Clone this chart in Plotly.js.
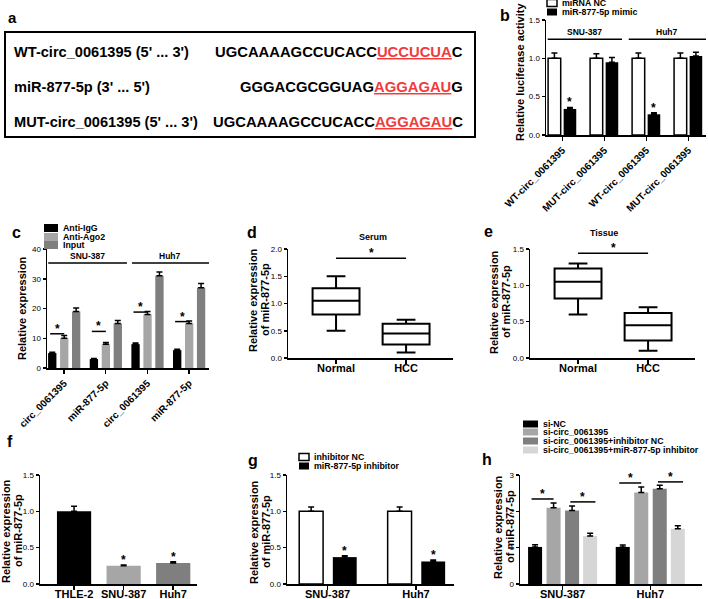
<!DOCTYPE html>
<html>
<head>
<meta charset="utf-8">
<script src="https://cdn.plot.ly/plotly-3.0.1.min.js"></script>
<style>body{margin:0;background:#fff}#chart{width:708px;height:599px}</style>
</head>
<body>
<div id="chart"></div>
<script>
// panel a - binding site sequences
const seqLabels = ["WT-circ_0061395 (5' ... 3')", "miR-877-5p (3' ... 5')", "MUT-circ_0061395 (5' ... 3')"];
const seqHead = ["UGCAAAAGCCUCACC", "GGGACGCGGUAG", "UGCAAAAGCCUCACC"];
const seqSite = ["UCCUCUA", "AGGAGAU", "AGGAGAU"];
const seqTail = ["C", "G", "C"];

// panel b - luciferase
const lucLabels = ["WT-circ_0061395", "MUT-circ_0061395", "WT-circ_0061395", "MUT-circ_0061395"];
const lucNames = ["miRNA NC", "miR-877-5p mimic"];
const lucNC = [1.0, 1.0, 1.0, 1.0];
const lucNCErr = [0.07, 0.06, 0.07, 0.07];
const lucMimic = [0.34, 0.95, 0.27, 1.03];
const lucMimicErr = [0.02, 0.06, 0.02, 0.05];
const lucStars = [0, 2];

// panel c - RIP
const ripLabels = ["circ_0061395", "miR-877-5p", "circ_0061395", "miR-877-5p"];
const ripNames = ["Anti-IgG", "Anti-Ago2", "Input"];
const ripIgG = [5, 3, 8, 6];
const ripIgGErr = [0.3, 0.2, 0.4, 0.3];
const ripAgo2 = [10, 8, 18, 15];
const ripAgo2Err = [0.9, 0.6, 1.0, 0.8];
const ripInput = [19, 15, 31, 27];
const ripInputErr = [1.2, 1.0, 1.3, 1.4];
const ripSig = [11.5, 12.3, 18.8, 15.6];

// panels d, e - box plots
const boxGroups = ["Normal", "HCC"];
const serumLow = [0.5, 0.1];
const serumQ1 = [0.8, 0.25];
const serumMed = [1.05, 0.45];
const serumQ3 = [1.28, 0.63];
const serumHigh = [1.5, 0.7];
const tissueLow = [0.6, 0.1];
const tissueQ1 = [0.82, 0.24];
const tissueMed = [1.05, 0.45];
const tissueQ3 = [1.23, 0.62];
const tissueHigh = [1.3, 0.7];

// panel f - cell lines
const cellLines = ["THLE-2", "SNU-387", "Huh7"];
const cellExpr = [1.0, 0.25, 0.29];
const cellErr = [0.07, 0.01, 0.015];
const cellStars = [1, 2];

// panel g - inhibitor
const cancerLines = ["SNU-387", "Huh7"];
const inhNames = ["inhibitor NC", "miR-877-5p inhibitor"];
const inhNC = [1.0, 1.0];
const inhNCErr = [0.06, 0.06];
const inhMiR = [0.37, 0.31];
const inhMiRErr = [0.02, 0.02];

// panel h - knockdown rescue
const kdNames = ["si-NC", "si-circ_0061395", "si-circ_0061395+inhibitor NC", "si-circ_0061395+miR-877-5p inhibitor"];
const kdSiNC = [1.02, 1.02];
const kdSiNCErr = [0.06, 0.05];
const kdSiCirc = [2.1, 2.52];
const kdSiCircErr = [0.13, 0.15];
const kdInhNC = [2.02, 2.62];
const kdInhNCErr = [0.13, 0.1];
const kdMiRInh = [1.32, 1.52];
const kdMiRInhErr = [0.08, 0.08];
const kdSig = [[2.34, 2.26], [2.78, 2.81]];

const W = 708, H = 599;
const fx = p => p / W;
const fy = p => 1 - p / H;
const BLACK = '#000000', GRAY = '#a6a6a6', DARK = '#7f7f7f', PALE = '#d6d6d6';

const layout = {
    width: W, height: H,
    margin: {l: 0, r: 0, t: 0, b: 0},
    paper_bgcolor: 'white',
    plot_bgcolor: 'rgba(0,0,0,0)',
    showlegend: false,
    barmode: 'overlay',
    font: {family: 'Liberation Sans, Arial, sans-serif', color: 'black'},
    annotations: [],
    shapes: [],
};
const traces = [];

function sfx(id) { return id === 1 ? '' : String(id); }

function axes(id, left, right, top, bottom, xRange, yRange, dtick, fmt, xExtra) {
    const s = sfx(id);
    layout['xaxis' + s] = Object.assign({
        domain: [fx(left), fx(right)], anchor: 'y' + s, range: xRange,
        showline: true, linecolor: 'black', linewidth: 1.5,
        ticks: 'outside', ticklen: 4, tickwidth: 1.5, tickcolor: 'black',
        ticklabelstandoff: -5,
        showgrid: false, zeroline: false, fixedrange: true,
        tickfont: {size: 11, weight: 'bold', color: 'black'},
    }, xExtra || {});
    layout['yaxis' + s] = {
        domain: [fy(bottom), fy(top)], anchor: 'x' + s, range: yRange,
        tick0: 0, dtick: dtick, tickformat: fmt,
        showline: true, linecolor: 'black', linewidth: 1.5,
        ticks: 'outside', ticklen: 3, tickwidth: 1.5, tickcolor: 'black',
        showgrid: false, zeroline: false, fixedrange: true,
        tickfont: {size: 8, color: 'black'},
    };
}

function bars(id, xs, ys, err, color, offset, width, outlined) {
    const s = sfx(id);
    traces.push({
        type: 'bar', x: xs, y: ys, xaxis: 'x' + s, yaxis: 'y' + s,
        offset: offset, width: width,
        marker: {color: color, line: {color: 'black', width: outlined ? 1.5 : 0}},
        error_y: {type: 'data', symmetric: false, array: err, arrayminus: err.map(() => 0),
            color: 'black', thickness: 1.5, width: 3},
        hoverinfo: 'skip',
    });
}

function text(x, y, t, size, extra) {
    layout.annotations.push(Object.assign({
        xref: 'paper', yref: 'paper', x: fx(x), y: fy(y), text: t, showarrow: false,
        xanchor: 'center', yanchor: 'middle', font: {size: size, weight: 'bold'},
    }, extra || {}));
}

function star(id, x, y) {
    const s = sfx(id);
    layout.annotations.push({
        xref: 'x' + s, yref: 'y' + s, x: x, y: y, text: '*', showarrow: false,
        yanchor: 'bottom', yshift: -4, font: {size: 12, weight: 'bold'},
    });
}

function bracket(id, x0, x1, y) {
    const s = sfx(id);
    layout.shapes.push({type: 'line', xref: 'x' + s, yref: 'y' + s, x0: x0, x1: x1, y0: y, y1: y,
        line: {color: 'black', width: 1.5}});
    star(id, (x0 + x1) / 2, y);
}

function groupLine(id, x0, x1, y, label) {
    const s = sfx(id);
    layout.shapes.push({type: 'line', xref: 'x' + s, yref: 'y' + s, x0: x0, x1: x1, y0: y, y1: y,
        line: {color: 'black', width: 1.5}});
    layout.annotations.push({xref: 'x' + s, yref: 'y' + s, x: (x0 + x1) / 2, y: y, text: label,
        showarrow: false, yanchor: 'bottom', yshift: 0, font: {size: 8.5, weight: 'bold'}});
}

function legendBox(x, rows, names, colors, sw, sh) {
    names.forEach((nm, i) => {
        layout.shapes.push({type: 'rect', xref: 'paper', yref: 'paper',
            x0: fx(x), x1: fx(x + sw), y0: fy(rows[i] + sh / 2), y1: fy(rows[i] - sh / 2),
            fillcolor: colors[i], line: {color: 'black', width: colors[i] === 'white' ? 1.5 : 0}});
        text(x + sw + 4, rows[i], nm, 8.8, {xanchor: 'left', borderpad: 0});
    });
}

function yTitle(x, y, t) { text(x, y, t, 11, {textangle: -90}); }
function yTitle2(x, y) {
    yTitle(x - 6, y, 'Relative expression');
    yTitle(x + 6, y, 'of miR-877-5p');
}

// ---- a ----
layout.shapes.push({type: 'rect', xref: 'paper', yref: 'paper', x0: fx(5), x1: fx(475), y0: fy(137), y1: fy(32),
    line: {color: 'black', width: 2}});
text(12, 18, 'a', 15);
const rowY = [52, 87, 122];
seqLabels.forEach((lab, i) => {
    text(12, rowY[i], lab, 14.6, {xanchor: 'left'});
    text(465, rowY[i], seqHead[i] + '<span style="color:#f03c3c"><u>' + seqSite[i] + '</u></span>' + seqTail[i], 14.8,
        {xanchor: 'right'});
});

// ---- b ----
const lucX = lucLabels.map((_, i) => i);
axes(1, 546, 706, 20, 135, [-0.39, 3.42], [0, 1.5], 0.5, '.1f',
    {tickmode: 'array', tickvals: lucX, ticktext: lucLabels, tickangle: -45, ticklabelstandoff: 0,
        tickfont: {size: 10, weight: 'bold', color: 'black'}});
bars(1, lucX, lucNC, lucNCErr, 'white', -0.34, 0.3, true);
bars(1, lucX, lucMimic, lucMimicErr, BLACK, 0.03, 0.3, false);
lucStars.forEach(i => star(1, i + 0.18, lucMimic[i] + lucMimicErr[i]));
groupLine(1, -0.35, 1.42, 1.25, 'SNU-387');
groupLine(1, 1.58, 3.42, 1.25, 'Huh7');
legendBox(547, [3, 12], lucNames, ['white', BLACK], 10, 7);
yTitle(520, 72, 'Relative luciferase activity');
text(505, 15, 'b', 16);

// ---- c ----
const ripX = ripLabels.map((_, i) => i);
const ripOff = [-0.384, -0.096, 0.19], ripW = 0.2;
axes(2, 47, 209, 249, 368, [-0.41, 3.48], [0, 40], 10, '',
    {tickmode: 'array', tickvals: ripX, ticktext: ripLabels, tickangle: -45, ticklabelstandoff: 0,
        tickfont: {size: 10, weight: 'bold', color: 'black'}});
bars(2, ripX, ripIgG, ripIgGErr, BLACK, ripOff[0], ripW, false);
bars(2, ripX, ripAgo2, ripAgo2Err, GRAY, ripOff[1], ripW, false);
bars(2, ripX, ripInput, ripInputErr, DARK, ripOff[2], ripW, false);
ripX.forEach(i => bracket(2, i + ripOff[0] + 0.05, i + ripOff[1] + ripW / 2, ripSig[i]));
groupLine(2, -0.38, 1.51, 35.3, 'SNU-387');
groupLine(2, 1.63, 3.48, 35.3, 'Huh7');
legendBox(44, [228, 237, 245], ripNames, [BLACK, GRAY, DARK], 14, 8);
yTitle(22, 308, 'Relative expression');
text(16, 232, 'c', 16);

// ---- d, e ----
function boxPanel(id, low, q1, med, q3, high) {
    const s = sfx(id);
    traces.push({
        type: 'box', x: boxGroups, lowerfence: low, q1: q1, median: med, q3: q3, upperfence: high,
        xaxis: 'x' + s, yaxis: 'y' + s, width: 0.67, whiskerwidth: 0.4,
        fillcolor: 'white', line: {color: 'black', width: 2}, boxpoints: false, hoverinfo: 'skip',
    });
}
axes(3, 288, 453, 249, 358, [-0.686, 1.67], [0, 2], 0.5, '.1f');
boxPanel(3, serumLow, serumQ1, serumMed, serumQ3, serumHigh);
bracket(3, 0, 1, 1.83);
text(373, 237, 'Serum', 9);
yTitle2(259, 300);
text(252, 232, 'd', 16);

axes(4, 530, 695, 249, 358, [-0.686, 1.67], [0, 1.5], 0.5, '.1f');
boxPanel(4, tissueLow, tissueQ1, tissueMed, tissueQ3, tissueHigh);
bracket(4, 0, 1, 1.44);
text(604, 233, 'Tissue', 9);
yTitle2(500, 302);
text(488, 231, 'e', 16);

// ---- f ----
axes(5, 40, 197, 475, 584, [-0.687, 2.48], [0, 1.5], 0.5, '.1f');
traces.push({
    type: 'bar', x: cellLines, y: cellExpr, xaxis: 'x5', yaxis: 'y5', width: 0.69,
    marker: {color: [BLACK, GRAY, DARK], line: {width: 0}},
    error_y: {type: 'data', symmetric: false, array: cellErr, arrayminus: cellErr.map(() => 0),
        color: 'black', thickness: 1.5, width: 3},
    hoverinfo: 'skip',
});
cellStars.forEach(i => star(5, i, cellExpr[i] + cellErr[i]));
yTitle2(12, 531);
text(10, 441, 'f', 16);

// ---- g ----
axes(6, 287, 454, 475, 584, [-0.458, 1.43], [0, 1.5], 0.5, '.1f');
bars(6, cancerLines, inhNC, inhNCErr, 'white', -0.32, 0.27, true);
bars(6, cancerLines, inhMiR, inhMiRErr, BLACK, 0.06, 0.27, false);
inhMiR.forEach((v, i) => star(6, i + 0.195, v + inhMiRErr[i]));
legendBox(299, [457, 466], inhNames, ['white', BLACK], 10, 7);
yTitle2(260, 532);
text(253, 460, 'g', 16);

// ---- h ----
const kdOff = [-0.394, -0.183, 0.028, 0.234], kdW = 0.16;
axes(7, 520, 702, 475, 584, [-0.486, 1.59], [0, 3], 1, '');
bars(7, cancerLines, kdSiNC, kdSiNCErr, BLACK, kdOff[0], kdW, false);
bars(7, cancerLines, kdSiCirc, kdSiCircErr, GRAY, kdOff[1], kdW, false);
bars(7, cancerLines, kdInhNC, kdInhNCErr, DARK, kdOff[2], kdW, false);
bars(7, cancerLines, kdMiRInh, kdMiRInhErr, PALE, kdOff[3], kdW, false);
kdSig.forEach((pair, g) => {
    bracket(7, g + kdOff[0] + 0.04, g + kdOff[1] + kdW / 2, pair[0]);
    bracket(7, g + kdOff[2] + kdW / 2 - 0.02, g + kdOff[3] + kdW / 2 + 0.06, pair[1]);
});
legendBox(523, [424, 432, 441, 450], kdNames, [BLACK, GRAY, DARK, PALE], 15, 7);
yTitle2(504, 527);
text(487, 459, 'h', 16);

Plotly.newPlot('chart', traces, layout, {displayModeBar: false, staticPlot: true});
</script>
</body>
</html>
